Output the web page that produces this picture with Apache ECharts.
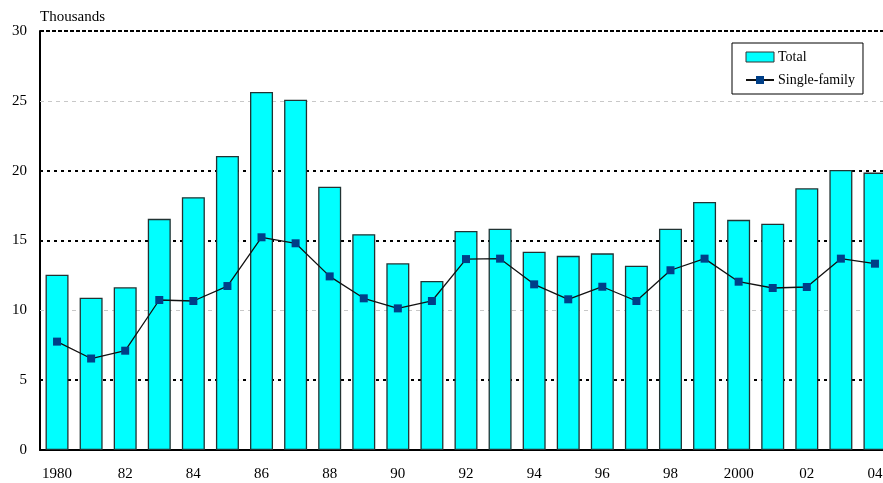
<!DOCTYPE html>
<html>
<head>
<meta charset="utf-8">
<script src="https://cdn.jsdelivr.net/npm/echarts@6/dist/echarts.min.js"></script>
<style>html,body{margin:0;padding:0;background:#fff;overflow:hidden}#c{width:892px;height:483px}</style>
</head>
<body>
<div id="c"></div>
<script>
const categories = ['1980','81','82','83','84','85','86','87','88','89','90','91','92','93','94','95','96','97','98','99','2000','01','02','03','04'];
const totalValues = [12.55, 10.9, 11.65, 16.55, 18.1, 21.05, 25.63, 25.08, 18.85, 15.45, 13.37, 12.1, 15.68, 15.85, 14.2, 13.9, 14.08, 13.2, 15.85, 17.76, 16.48, 16.2, 18.74, 20.05, 19.86];
const singleFamily = [7.76, 6.55, 7.11, 10.74, 10.67, 11.74, 15.23, 14.8, 12.43, 10.86, 10.14, 10.67, 13.67, 13.7, 11.86, 10.79, 11.69, 10.67, 12.87, 13.7, 12.05, 11.6, 11.67, 13.7, 13.34];
const gridValues = [5, 10, 15, 20, 25, 30];
const gridStyles = ['dark', 'light', 'dark', 'dark', 'light', 'top'];

const FONT = '"Liberation Serif", "Times New Roman", serif';
const styleFor = {
  dark: { color: '#000', width: 2, type: [3, 4] },
  light: { color: '#c8c8c8', width: 1, type: [4, 4] },
  top: { color: '#000', width: 2, type: [4, 2] }
};

const chart = echarts.init(document.getElementById('c'), null, { renderer: 'canvas' });
chart.setOption({
  animation: false,
  backgroundColor: '#fff',
  textStyle: { fontFamily: FONT },
  grid: { left: 40, top: 31, width: 852, height: 419, containLabel: false },
  graphic: [{
    type: 'text', left: 40, top: 10,
    style: { text: 'Thousands', font: '15px ' + FONT, fill: '#000' }
  }],
  legend: {
    orient: 'vertical',
    left: 732, top: 43,
    padding: [7, 8, 7, 13],
    itemGap: 9,
    itemWidth: 28, itemHeight: 10,
    backgroundColor: '#fff',
    borderColor: '#000', borderWidth: 1,
    textStyle: { fontFamily: FONT, fontSize: 14, color: '#000', padding: [0, 0, 0, -1] },
    data: [
      { name: 'Total', icon: 'rect', itemStyle: { color: '#00ffff', borderColor: '#333', borderWidth: 1 } },
      { name: 'Single-family' }
    ]
  },
  xAxis: {
    type: 'category',
    data: categories,
    boundaryGap: true,
    axisLine: { show: true, lineStyle: { color: '#000', width: 2 } },
    axisTick: { show: false },
    axisLabel: { interval: 1, margin: 17, fontFamily: FONT, fontSize: 15, color: '#000' },
    splitLine: { show: false }
  },
  yAxis: {
    type: 'value',
    min: 0, max: 30, interval: 5,
    axisLine: { show: true, lineStyle: { color: '#000', width: 2 } },
    axisTick: { show: false },
    axisLabel: { margin: 13, fontFamily: FONT, fontSize: 15, color: '#000' },
    splitLine: { show: false }
  },
  series: [
    {
      name: 'Total',
      type: 'bar',
      data: totalValues,
      barWidth: 23,
      z: 2,
      itemStyle: { color: '#00ffff', borderColor: '#223333', borderWidth: 1.3 },
      markLine: {
        silent: true,
        z: 1,
        symbol: 'none',
        label: { show: false },
        data: gridValues.map((v, i) => ({ yAxis: v, lineStyle: styleFor[gridStyles[i]] }))
      }
    },
    {
      name: 'Single-family',
      type: 'line',
      data: singleFamily,
      z: 3,
      symbol: 'rect',
      symbolSize: 8,
      lineStyle: { color: '#111', width: 1.3 },
      itemStyle: { color: '#003f88' }
    }
  ]
});
</script>
</body>
</html>
